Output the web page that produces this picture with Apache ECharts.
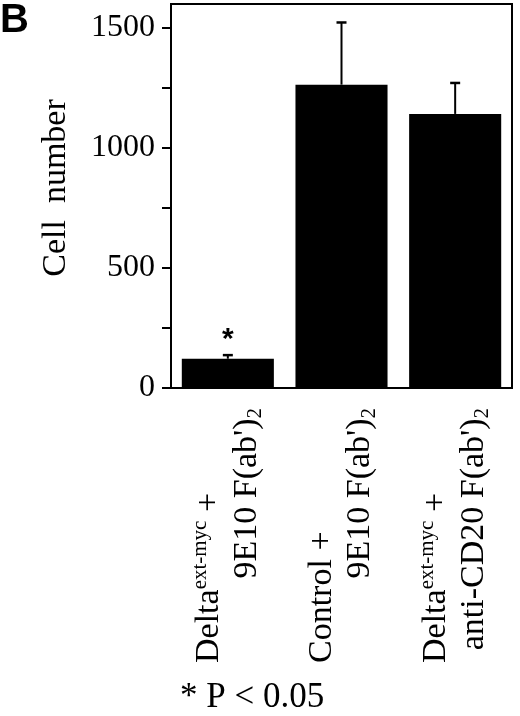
<!DOCTYPE html>
<html>
<head>
<meta charset="utf-8">
<script src="https://cdn.jsdelivr.net/npm/echarts@6/dist/echarts.min.js"></script>
<style>
    html, body {margin: 0; padding: 0; background: #fff;}
    #chart {width: 520px; height: 716px;}
</style>
</head>
<body>
<div id="chart"></div>
<script>
// 分类标签: 第一行(主体 + 上标 + 尾部), 第二行(主体 + 下标)
var line1Main = ['Delta', 'Control +', 'Delta'];
var line1Sup = ['ext-myc', '', 'ext-myc'];
var line1Tail = [' +', '', ' +'];
var line2Main = ["9E10 F(ab')", "9E10 F(ab')", "anti-CD20 F(ab')"];
var line2Sub = ['2', '2', '2'];
// 细胞数与误差(只画上半部分)
var cellNumber = [122, 1264, 1142];
var errUpper = [15, 259, 129];
var sigMarks = ['*', '', ''];
// 刻度
var yTicks = [0, 250, 500, 750, 1000, 1250, 1500];
var yLabels = [0, 500, 1000, 1500];

var serif = "'Liberation Serif', 'DejaVu Serif', serif";
var sans = "'Liberation Sans', Arial, sans-serif";
var mainSize = 34, smallSize = 21;
var labelBoxW = 255;

// 量文字宽度, 用来让第二行右对齐, 第一行左对齐
var ctx = document.createElement('canvas').getContext('2d');
function textW(str, size) {
    ctx.font = size + 'px ' + serif;
    return ctx.measureText(str).width;
}

var rich = {
    d: {fontSize: mainSize, lineHeight: 38, fontFamily: serif, color: '#000', align: 'left'},
    sup: {fontSize: smallSize, lineHeight: 21, verticalAlign: 'top', fontFamily: serif, color: '#000', align: 'left'},
    sub: {fontSize: smallSize, lineHeight: 21, verticalAlign: 'bottom', fontFamily: serif, color: '#000', align: 'left'}
};
var categories = [];
for (var i = 0; i < line1Main.length; i++) {
    var s = '{d|' + line1Main[i] + '}';
    if (line1Sup[i]) s += '{sup|' + line1Sup[i] + '}';
    if (line1Tail[i]) s += '{d|' + line1Tail[i] + '}';
    var gap = labelBoxW - textW(line2Main[i], mainSize) - textW(line2Sub[i], smallSize);
    rich['g' + i] = {width: Math.max(gap, 0), fontSize: mainSize, lineHeight: 38, align: 'left'};
    s += '\n{g' + i + '| }{d|' + line2Main[i] + '}{sub|' + line2Sub[i] + '}';
    categories.push(s);
}

var myChart = echarts.init(document.getElementById('chart'));

var errData = [];
for (var j = 0; j < categories.length; j++) {
    errData.push([j, cellNumber[j], errUpper[j]]);
}

var option = {
    animation: false,
    backgroundColor: '#fff',
    grid: {
        left: 171,
        right: 8,
        top: 4,
        bottom: 328,
        show: true,
        borderColor: '#000',
        borderWidth: 2
    },
    xAxis: {
        type: 'category',
        data: categories,
        axisLine: {lineStyle: {color: '#000', width: 2}},
        axisTick: {alignWithLabel: true, length: 5, lineStyle: {color: '#000', width: 2}},
        axisLabel: {
            interval: 0,
            rotate: 90,
            margin: 20,
            color: '#000',
            rich: rich
        }
    },
    yAxis: {
        type: 'value',
        min: 0,
        max: 1600,
        name: 'Cell  number',
        nameLocation: 'middle',
        nameGap: 98,
        nameTextStyle: {fontSize: 34, fontFamily: serif, color: '#000', padding: [0, 0, 0, 16]},
        splitLine: {show: false},
        axisLine: {show: true, lineStyle: {color: '#000', width: 2}},
        axisTick: {show: true, length: 9, customValues: yTicks, lineStyle: {color: '#000', width: 2}},
        axisLabel: {
            margin: 16,
            customValues: yLabels,
            fontSize: 32,
            fontFamily: serif,
            color: '#000',
            formatter: function (v) { return String(v); }
        }
    },
    graphic: [
        {type: 'text', left: 0, top: 1, style: {text: 'B', fontSize: 40, fontWeight: 'bold', fontFamily: sans, fill: '#000'}},
        {type: 'text', left: 180, top: 680, style: {text: '* P < 0.05', fontSize: 35, fontFamily: serif, fill: '#000'}}
    ],
    series: [
        {
            type: 'bar',
            data: cellNumber,
            barWidth: '81%',
            itemStyle: {color: '#000'}
        },
        {
            type: 'custom',
            data: errData,
            encode: {x: 0, y: 1},
            z: 5,
            renderItem: function (params, api) {
                var idx = api.value(0);
                var v = api.value(1);
                var e = api.value(2);
                var base = api.coord([idx, v]);
                var top = api.coord([idx, v + e]);
                var children = [
                    {type: 'line', shape: {x1: base[0], y1: base[1], x2: top[0], y2: top[1]}, style: {stroke: '#000', lineWidth: 2}},
                    {type: 'line', shape: {x1: top[0] - 5, y1: top[1], x2: top[0] + 5, y2: top[1]}, style: {stroke: '#000', lineWidth: 2.5}}
                ];
                var mark = sigMarks[params.dataIndex];
                if (mark) {
                    children.push({
                        type: 'text',
                        x: top[0],
                        y: top[1] - 15,
                        style: {text: mark, fontSize: 30, fontWeight: 'bold', fontFamily: sans, fill: '#000', align: 'center', verticalAlign: 'middle'}
                    });
                }
                return {type: 'group', children: children};
            }
        }
    ]
};
myChart.setOption(option);
</script>
</body>
</html>
